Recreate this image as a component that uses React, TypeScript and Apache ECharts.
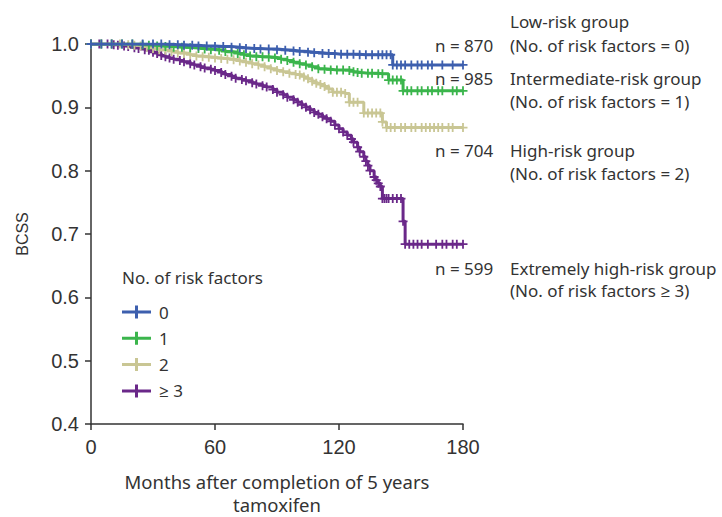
import React, { useEffect, useRef } from "react";
import * as echarts from "echarts";

const seriesNames = ["0", "1", "2", "≥ 3"];
const seriesColors = ["#3d5fae", "#3bb54c", "#c9c694", "#6a2889"];

const group0: number[][] = [
  [0, 1], [5, 1], [10, 1], [15, 1], [20, 1], [25, 1], [30, 1], [34, 1], [38, 0.999], [42, 0.999],
  [45, 0.998], [49, 0.998], [52, 0.997], [56, 0.997], [60, 0.996], [64, 0.996], [68, 0.995],
  [72, 0.994], [75, 0.993], [79, 0.993], [82, 0.992], [86, 0.992], [90, 0.991], [94, 0.99],
  [98, 0.989], [101, 0.988], [105, 0.987], [108, 0.986], [112, 0.985], [115, 0.985],
  [118, 0.984], [121, 0.984], [124, 0.984], [127, 0.984], [130, 0.983], [133, 0.983], [136, 0.983],
  [139, 0.983], [141, 0.983], [143, 0.983], [145, 0.983],
  [146, 0.967], [148, 0.967], [150, 0.967], [152, 0.967], [155, 0.967], [158, 0.967], [160, 0.967],
  [163, 0.967], [165, 0.967], [170, 0.967], [175, 0.967], [180, 0.967],
];
const group1: number[][] = [
  [0, 1], [5, 1], [10, 1], [15, 1], [20, 1], [25, 0.999], [28, 0.998], [32, 0.997], [36, 0.996],
  [40, 0.995], [44, 0.995], [48, 0.994], [52, 0.993], [55, 0.992], [58, 0.991], [62, 0.99],
  [65, 0.988], [68, 0.987], [71, 0.985], [74, 0.983], [77, 0.981], [80, 0.98], [83, 0.98],
  [86, 0.979], [89, 0.978], [92, 0.976], [95, 0.974], [98, 0.971], [101, 0.969], [104, 0.967],
  [107, 0.964], [110, 0.961], [113, 0.96], [116, 0.959], [119, 0.959], [122, 0.959], [125, 0.958],
  [127, 0.956], [129, 0.955], [131, 0.954], [134, 0.954], [136, 0.954], [139, 0.953], [141, 0.953],
  [144, 0.943], [146, 0.943], [148, 0.943], [150, 0.943], [151, 0.926], [153, 0.926], [155, 0.926],
  [158, 0.926], [160, 0.926], [163, 0.926], [165, 0.926], [168, 0.926], [170, 0.926], [175, 0.926],
  [177, 0.926], [180, 0.926],
];
const group2: number[][] = [
  [0, 1], [5, 1], [10, 1], [14, 1], [18, 0.999], [21, 0.998], [24, 0.997], [27, 0.995], [30, 0.993],
  [33, 0.991], [36, 0.99], [39, 0.988], [42, 0.986], [45, 0.985], [48, 0.983], [51, 0.981],
  [54, 0.98], [57, 0.979], [60, 0.978], [63, 0.977], [66, 0.976], [69, 0.975], [72, 0.973],
  [75, 0.971], [78, 0.969], [81, 0.967], [84, 0.964], [87, 0.961], [90, 0.958], [93, 0.956],
  [96, 0.954], [99, 0.952], [101, 0.951], [103, 0.948], [105, 0.945], [107, 0.941], [109, 0.938],
  [111, 0.936], [113, 0.933], [115, 0.929], [117, 0.924], [119, 0.924], [121, 0.924], [123, 0.922],
  [125, 0.908], [127, 0.908], [129, 0.908], [132, 0.891], [134, 0.891], [136, 0.891], [138, 0.891],
  [140, 0.891], [141, 0.877], [143, 0.868], [145, 0.868], [147, 0.868], [150, 0.868], [152, 0.868],
  [155, 0.868], [157, 0.868], [160, 0.868], [162, 0.868], [164, 0.868], [166, 0.868], [168, 0.868],
  [170, 0.868], [173, 0.868], [175, 0.868], [180, 0.868],
];
const group3: number[][] = [
  [0, 1], [4, 1], [8, 1], [11, 0.999], [13, 0.998], [16, 0.997], [18, 0.996], [21, 0.994],
  [23, 0.993], [26, 0.991], [28, 0.99], [30, 0.987], [32, 0.985], [34, 0.982], [36, 0.98],
  [38, 0.978], [40, 0.976], [43, 0.974], [45, 0.972], [48, 0.969], [50, 0.967], [53, 0.964],
  [55, 0.962], [58, 0.96], [60, 0.958], [63, 0.955], [65, 0.952], [68, 0.949], [70, 0.946],
  [73, 0.944], [75, 0.942], [78, 0.939], [80, 0.937], [83, 0.934], [85, 0.932], [88, 0.928],
  [90, 0.924], [93, 0.92], [95, 0.916], [98, 0.912], [100, 0.908], [102, 0.904], [104, 0.9],
  [106, 0.896], [108, 0.892], [110, 0.889], [112, 0.885], [114, 0.882], [116, 0.878], [118, 0.872],
  [120, 0.866], [122, 0.861], [124, 0.856], [126, 0.85], [127, 0.845], [129, 0.837], [130, 0.83],
  [132, 0.822], [133, 0.815], [134, 0.808], [135, 0.8], [137, 0.79], [138, 0.785], [139, 0.78],
  [140, 0.775], [141, 0.756], [142, 0.756], [143, 0.756], [144, 0.756], [146, 0.756], [148, 0.756],
  [150, 0.756], [151, 0.72], [152, 0.684], [154, 0.684], [156, 0.684], [158, 0.684], [160, 0.684],
  [163, 0.684], [167, 0.684], [170, 0.684], [172, 0.684], [175, 0.684], [177, 0.684], [180, 0.684],
];
const groupData = [group0, group1, group2, group3];

const xTicks = [0, 60, 120, 180];
const yTicks = [0.4, 0.5, 0.6, 0.7, 0.8, 0.9, 1.0];

const nLabels = ["n = 870", "n = 985", "n = 704", "n = 599"];
const groupTitles = [
  "Low-risk group",
  "Intermediate-risk group",
  "High-risk group",
  "Extremely high-risk group",
];
const groupSubtitles = [
  "(No. of risk factors = 0)",
  "(No. of risk factors = 1)",
  "(No. of risk factors = 2)",
  "(No. of risk factors ≥ 3)",
];
const nLabelY = [45, 78, 150, 268];
const titleY = [21, 78, 150, 268];
const subtitleY = [45, 101, 173, 290];

const PLUS = "path://M4,0h2v4h4v2h-4v4h-2v-4h-4v-2h4z";
const LEGEND_ICON = "path://M0,5H13V0H16V5H29V8H16V13H13V8H0Z";
const TEXT_FONT = "'Noto Sans', 'Open Sans', sans-serif";
const AXIS_FONT = "'Liberation Sans', Arial, sans-serif";

export default function App() {
  const ref = useRef<HTMLDivElement>(null);
  useEffect(() => {
    if (!ref.current) return;
    const chart = echarts.init(ref.current, null, { renderer: "svg" });
    const graphics: any[] = [];
    graphics.push({
      type: "text",
      x: 122,
      y: 277,
      style: { text: "No. of risk factors", font: `17px ${TEXT_FONT}`, fill: "#333", verticalAlign: "middle" },
    });
    for (let i = 0; i < 4; i++) {
      graphics.push({
        type: "text",
        x: 435,
        y: nLabelY[i],
        style: { text: nLabels[i], font: `17px ${TEXT_FONT}`, fill: "#333", verticalAlign: "middle" },
      });
      graphics.push({
        type: "text",
        x: 510,
        y: titleY[i],
        style: { text: groupTitles[i], font: `17px ${TEXT_FONT}`, fill: "#333", verticalAlign: "middle" },
      });
      graphics.push({
        type: "text",
        x: 510,
        y: subtitleY[i],
        style: { text: groupSubtitles[i], font: `17px ${TEXT_FONT}`, fill: "#333", verticalAlign: "middle" },
      });
    }
    chart.setOption({
      animation: false,
      backgroundColor: "#fff",
      grid: {
        left: 91,
        right: 259,
        top: 44,
        bottom: 93,
        containLabel: false,
        outerBoundsMode: "none",
      },
      legend: {
        orient: "vertical",
        left: 122,
        top: 301,
        itemWidth: 29,
        itemHeight: 13,
        itemGap: 4.3,
        padding: 0,
        data: seriesNames.map((n) => ({ name: n, icon: LEGEND_ICON })),
        textStyle: { fontSize: 17, fontFamily: TEXT_FONT, color: "#333", padding: [0, 0, 0, 3], lineHeight: 22 },
      },
      xAxis: {
        type: "value",
        min: 0,
        max: 180,
        interval: 60,
        name: "Months after completion of 5 years\ntamoxifen",
        nameLocation: "middle",
        nameGap: 46,
        nameTextStyle: { fontSize: 18.5, fontFamily: TEXT_FONT, color: "#333", lineHeight: 23 },
        axisLine: { show: true, lineStyle: { color: "#333", width: 1.5 } },
        axisTick: { show: true, length: 6, lineStyle: { color: "#333", width: 1.5 } },
        axisLabel: {
          fontSize: 20,
          fontFamily: AXIS_FONT,
          color: "#333",
          margin: 13,
          formatter: (v: number) => (xTicks.includes(v) ? String(v) : ""),
        },
        splitLine: { show: false },
      },
      yAxis: {
        type: "value",
        min: 0.4,
        max: 1.0,
        interval: 0.1,
        name: "BCSS",
        nameLocation: "middle",
        nameRotate: 90,
        nameGap: 61,
        nameTextStyle: { fontSize: 16, fontFamily: AXIS_FONT, color: "#333" },
        axisLine: { show: true, lineStyle: { color: "#333", width: 1.5 } },
        axisTick: { show: true, length: 6, lineStyle: { color: "#333", width: 1.5 } },
        axisLabel: {
          fontSize: 20,
          fontFamily: AXIS_FONT,
          color: "#333",
          margin: 12,
          formatter: (v: number) => {
            const t = yTicks.find((y) => Math.abs(y - v) < 1e-6);
            return t !== undefined ? t.toFixed(1) : "";
          },
        },
        splitLine: { show: false },
      },
      series: groupData.map((d, i) => ({
        name: seriesNames[i],
        type: "line",
        step: "end",
        data: d,
        showSymbol: true,
        symbol: PLUS,
        symbolSize: 9,
        color: seriesColors[i],
        itemStyle: { color: seriesColors[i] },
        lineStyle: { color: seriesColors[i], width: 3 },
        z: 10 - i,
      })),
      graphic: graphics,
    });
    return () => chart.dispose();
  }, []);
  return (
    <div
      ref={ref}
      style={{ position: "absolute", left: 0, top: 0, width: 722, height: 517 }}
    />
  );
}
